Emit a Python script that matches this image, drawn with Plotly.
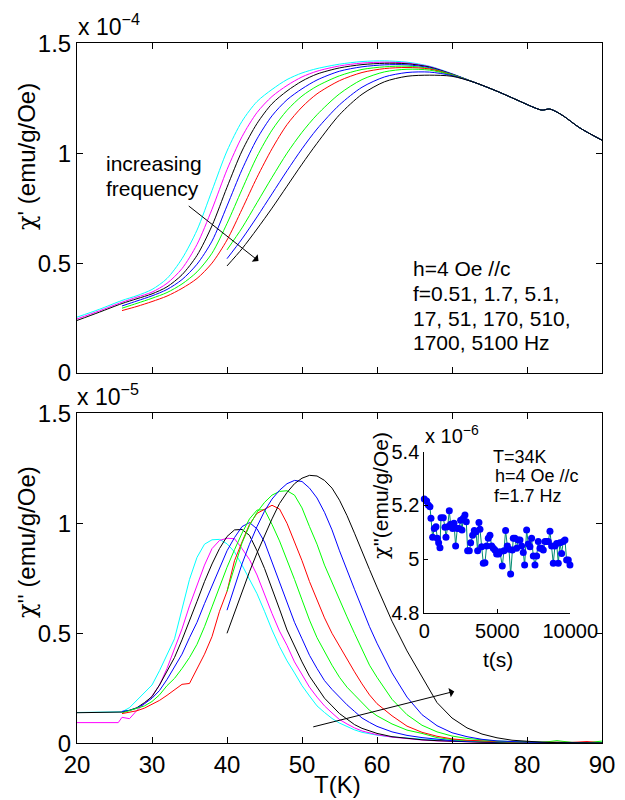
import plotly.graph_objects as go

# ---------------- data ----------------
# top panel: chi' (units of 1e-4 emu/g/Oe)
T_top = [20, 23, 26, 28, 30, 32, 34, 36, 38, 40, 42, 44, 46, 48, 50, 52, 55, 58,
         61, 64, 67, 70, 73, 76, 79, 81, 82, 83, 84, 85, 87, 90]
top_tail = [1.322, 1.282, 1.237, 1.207, 1.196, 1.201, 1.187, 1.166, 1.116, 1.059]
top_cyan = [0.254, 0.29, 0.33, 0.352, 0.38, 0.43, 0.52, 0.65, 0.83, 1.01, 1.145, 1.235,
            1.29, 1.335, 1.365, 1.385, 1.405, 1.417, 1.42, 1.414, 1.396, 1.362]
top_magenta = [0.246, 0.283, 0.322, 0.345, 0.368, 0.408, 0.475, 0.585, 0.745, 0.925, 1.075,
               1.185, 1.258, 1.308, 1.347, 1.373, 1.397, 1.41, 1.414, 1.41, 1.394, 1.361]
top_black1 = [0.239, 0.277, 0.316, 0.338, 0.36, 0.392, 0.447, 0.535, 0.67, 0.845, 1.01,
              1.135, 1.225, 1.283, 1.328, 1.36, 1.388, 1.403, 1.409, 1.407, 1.392, 1.36]
top_blue1 = [None, None, 0.305, 0.328, 0.351, 0.38, 0.425, 0.495, 0.6, 0.76, 0.925, 1.065,
             1.17, 1.243, 1.293, 1.333, 1.373, 1.393, 1.402, 1.402, 1.389, 1.359]
top_green1 = [None, None, 0.295, 0.317, 0.34, 0.366, 0.405, 0.46, 0.545, 0.68, 0.835, 0.985,
              1.105, 1.195, 1.26, 1.305, 1.352, 1.381, 1.393, 1.396, 1.386, 1.358]
top_red = [None, None, 0.284, 0.303, 0.325, 0.35, 0.385, 0.43, 0.5, 0.605, 0.745, 0.89,
           1.02, 1.13, 1.21, 1.27, 1.33, 1.367, 1.385, 1.39, 1.383, 1.356]
top_green2 = [None] * 9 + [0.56, 0.66, 0.775, 0.89, 1.0, 1.095, 1.175, 1.27, 1.335, 1.37,
                           1.382, 1.378, 1.355]
top_blue2 = [None] * 9 + [0.52, 0.61, 0.71, 0.815, 0.92, 1.02, 1.11, 1.22, 1.3, 1.347,
                          1.367, 1.369, 1.353]
top_black2 = [None] * 9 + [0.487, 0.565, 0.655, 0.75, 0.85, 0.95, 1.045, 1.175, 1.268,
                           1.325, 1.35, 1.355, 1.35]

# bottom panel: chi'' (units of 1e-5 emu/g/Oe)
T_bot = [20, 25.5, 26, 27, 28, 29, 30, 31, 32, 33, 34, 35, 36, 37, 38, 39, 40, 41, 42, 43,
         44, 45, 46, 47, 48, 49, 50, 51, 52, 53, 54, 55, 56, 57, 58, 59, 60, 62, 64, 66,
         68, 70, 72, 74, 76, 78, 80, 82, 84, 86, 88, 90]
bot_cyan = [0.140, 0.141, 0.143, 0.162, 0.196, 0.232, 0.265, 0.33, 0.40, 0.475, 0.61, 0.745,
            0.845, 0.905, 0.925, 0.927, 0.907, 0.87, 0.81, 0.745, 0.68, 0.6, 0.515, 0.44,
            0.375, 0.32, 0.262, 0.215, 0.17, 0.14, 0.113, 0.092, 0.075, 0.061, 0.05, 0.043,
            0.037, 0.029, 0.023, 0.019, 0.016, 0.013, 0.011, 0.01, 0.008, 0.006, 0.005,
            0.004, 0.003, 0.003, 0.002, 0.002]
bot_magenta = [0.094, 0.094, 0.118, 0.112, 0.15, 0.18, 0.215, 0.265, 0.34, 0.43, 0.52, 0.625,
               0.715, 0.81, 0.885, 0.922, 0.932, 0.93, 0.885, 0.835, 0.765, 0.675, 0.59,
               0.51, 0.445, 0.37, 0.315, 0.255, 0.21, 0.17, 0.138, 0.108, 0.088, 0.07,
               0.056, 0.047, 0.039, 0.028, 0.02, 0.015, 0.011, 0.008, 0.006, 0.005, 0.004,
               0.003, 0.003, 0.004, 0.005, 0.003, 0.002, 0.002]
bot_black1 = [0.139, 0.14, 0.142, 0.15, 0.162, 0.185, 0.212, 0.265, 0.325, 0.39, 0.47, 0.555,
              0.645, 0.735, 0.815, 0.885, 0.94, 0.97, 0.972, 0.945, 0.875, 0.795, 0.705,
              0.61, 0.515, 0.44, 0.37, 0.305, 0.255, 0.205, 0.17, 0.135, 0.11, 0.085, 0.068,
              0.055, 0.045, 0.03, 0.022, 0.016, 0.012, 0.009, 0.007, 0.005, 0.004, 0.003,
              0.002, 0.002, 0.002, 0.001, 0.001, 0.001]
bot_blue1 = [None, None, 0.145, 0.15, 0.16, 0.18, 0.205, 0.24, 0.29, 0.345, 0.405, 0.48,
             0.55, 0.635, 0.715, 0.795, 0.875, 0.935, 0.985, 1.003, 0.975, 0.915, 0.825,
             0.735, 0.64, 0.55, 0.475, 0.4, 0.34, 0.285, 0.245, 0.21, 0.175, 0.145, 0.115,
             0.095, 0.077, 0.052, 0.036, 0.026, 0.018, 0.012, 0.009, 0.007, 0.005, 0.004,
             0.003, 0.002, 0.002, 0.002, 0.001, 0.001]
bot_green1 = [None, None, 0.138, 0.148, 0.158, 0.17, 0.19, 0.22, 0.262, 0.295, 0.34, 0.39,
              0.45, 0.53, 0.62, 0.71, 0.8, 0.88, 0.955, 1.02, 1.06, 1.062, 0.995, 0.92,
              0.835, 0.745, 0.652, 0.56, 0.48, 0.415, 0.355, 0.3, 0.255, 0.22, 0.185, 0.15,
              0.125, 0.088, 0.06, 0.045, 0.026, 0.017, 0.012, 0.009, 0.007, 0.005, 0.004,
              0.004, 0.012, 0.004, 0.003, 0.01]
bot_red = [None, None, 0.135, 0.14, 0.148, 0.16, 0.178, 0.195, 0.218, 0.245, 0.268, 0.272,
           0.335, 0.405, 0.485, 0.6, 0.69, 0.83, 0.915, 0.995, 1.045, 1.065, 1.082, 1.065,
           1.0, 0.915, 0.83, 0.735, 0.65, 0.57, 0.5, 0.44, 0.38, 0.325, 0.27, 0.22, 0.18,
           0.125, 0.078, 0.05, 0.032, 0.02, 0.014, 0.01, 0.008, 0.006, 0.005, 0.004, 0.004,
           0.004, 0.008, 0.002]
bot_green2 = [None] * 16 + [0.69, 0.8, 0.91, 0.99, 1.05, 1.095, 1.128, 1.145, 1.148, 1.128,
                            1.07, 0.985, 0.905, 0.81, 0.73, 0.655, 0.575, 0.5, 0.425, 0.355,
                            0.3, 0.2, 0.13, 0.082, 0.052, 0.033, 0.022, 0.015, 0.01, 0.008,
                            0.006, 0.005, 0.004, 0.004, 0.003, 0.002]
bot_blue2 = [None] * 16 + [0.605, 0.71, 0.815, 0.905, 0.985, 1.055, 1.11, 1.15, 1.18, 1.195,
                           1.19, 1.16, 1.115, 1.05, 0.97, 0.875, 0.785, 0.7, 0.615, 0.53,
                           0.455, 0.32, 0.21, 0.13, 0.08, 0.048, 0.03, 0.018, 0.011, 0.007,
                           0.005, 0.004, 0.003, 0.002, 0.002, 0.001]
bot_black2 = [None] * 16 + [0.5, 0.595, 0.69, 0.78, 0.865, 0.945, 1.02, 1.09, 1.14, 1.18,
                            1.205, 1.218, 1.215, 1.195, 1.16, 1.105, 1.035, 0.955, 0.87, 0.79,
                            0.71, 0.555, 0.42, 0.3, 0.185, 0.115, 0.07, 0.042, 0.025, 0.014,
                            0.009, 0.005, 0.003, 0.002, 0.002, 0.001]

# inset: chi'' vs time at T=34 K (units of 1e-6)
inset_t = [0, 160, 274, 388, 457, 571, 685, 799, 890, 982,
           1073, 1142, 1301, 1415, 1484, 1598, 1712, 1804, 1941, 2032,
           2146, 2260, 2374, 2488, 2580, 2671, 2785, 2877, 2968, 3082,
           3173, 3310, 3425, 3539, 3653, 3744, 3813, 3927, 4041, 4155,
           4269, 4383, 4497, 4612, 4726, 4840, 4954, 5091, 5182, 5342,
           5456, 5570, 5684, 5799, 5913, 6027, 6096, 6210, 6324, 6438,
           6552, 6666, 6780, 6872, 7009, 7123, 7237, 7351, 7466, 7580,
           7694, 7808, 7922, 8036, 8150, 8265, 8379, 8493, 8607, 8721,
           8835, 8949, 9064, 9178, 9292, 9406, 9520, 9634, 9748, 9862, 9977]
inset_v = [5.224, 5.216, 5.201, 5.195, 5.152, 5.081, 5.114, 5.12, 5.077, 5.061,
           5.042, 5.154, 5.154, 5.118, 5.081, 5.12, 5.18, 5.13, 5.114, 5.133,
           5.049, 5.114, 5.114, 5.145, 5.108, 5.152, 5.164, 5.139, 5.031, 5.031,
           5.061, 5.089, 5.106, 5.102, 5.031, 5.136, 5.111, 5.046, 4.984, 4.986,
           5.049, 5.077, 5.089, 5.049, 5.04, 5.034, 5.019, 5.019, 5.027, 4.974,
           5.031, 5.106, 5.049, 5.036, 4.944, 5.034, 5.077, 5.077, 5.04, 5.071,
           5.071, 5.049, 5.024, 4.978, 5.108, 5.056, 5.046, 5.077, 5.011, 4.978,
           5.011, 5.065, 5.04, 5.04, 5.034, 5.065, 5.065, 5.065, 5.104, 5.049,
           4.984, 5.049, 5.058, 4.984, 5.061, 5.021, 5.065, 5.071, 4.996, 4.996, 4.978]

colors = ["#00FFFF", "#FF00FF", "#000000", "#0000FF", "#00FF00", "#FF0000",
          "#00FF00", "#0000FF", "#000000"]
top_series = [top_cyan, top_magenta, top_black1, top_blue1, top_green1, top_red,
              top_green2, top_blue2, top_black2]
bot_series = [bot_cyan, bot_magenta, bot_black1, bot_blue1, bot_green1, bot_red,
              bot_green2, bot_blue2, bot_black2]

W, H = 625, 800
FONT = "Liberation Sans, Arial, sans-serif"
CHI = '<span style="font-family:DejaVu Serif">χ</span>'


def px(x):
    return x / W


def py(y):
    return 1 - y / H


fig = go.Figure()
for vals, col in zip(top_series, colors):
    fig.add_trace(go.Scatter(x=T_top, y=vals + top_tail, mode="lines",
                             line=dict(color=col, width=1, shape="spline", smoothing=0.8),
                             xaxis="x", yaxis="y", showlegend=False, hoverinfo="skip"))
for vals, col in zip(bot_series, colors):
    fig.add_trace(go.Scatter(x=T_bot, y=vals, mode="lines",
                             line=dict(color=col, width=1),
                             xaxis="x2", yaxis="y2", showlegend=False, hoverinfo="skip"))
fig.add_trace(go.Scatter(x=inset_t, y=inset_v, mode="lines+markers",
                         line=dict(color="#008a70", width=1),
                         marker=dict(color="#0000FF", size=7),
                         xaxis="x3", yaxis="y3", showlegend=False, cliponaxis=False,
                         hoverinfo="skip"))

axis_common = dict(showline=True, linecolor="black", linewidth=1, mirror="ticks",
                   ticks="inside", ticklen=6, tickcolor="black", showgrid=False,
                   zeroline=False, automargin=False,
                   tickfont=dict(family=FONT, size=24, color="black"))
inset_common = dict(showline=True, linecolor="black", linewidth=1, ticks="inside",
                    ticklen=4, tickcolor="black", showgrid=False, zeroline=False,
                    automargin=False, tickfont=dict(family=FONT, size=20, color="black"))
xdom = [px(77), px(602)]
fig.update_layout(
    width=W, height=H, margin=dict(l=0, r=0, t=0, b=0, autoexpand=False),
    paper_bgcolor="white", plot_bgcolor="white",
    font=dict(family=FONT, color="black"),
    xaxis=dict(domain=xdom, range=[20, 90], anchor="y",
               tickvals=[30, 40, 50, 60, 70, 80], showticklabels=False, **axis_common),
    yaxis=dict(domain=[py(373), py(43.3)], range=[0, 1.5], anchor="x",
               tickvals=[0, 0.5, 1, 1.5], ticktext=["0", "0.5", "1", "1.5"],
               **axis_common),
    xaxis2=dict(domain=xdom, range=[20, 90], anchor="y2",
                tickvals=[20, 30, 40, 50, 60, 70, 80, 90],
                ticktext=["20", "30", "40", "50", "60", "70", "80", "90"], **axis_common),
    yaxis2=dict(domain=[py(743.3), py(413.3)], range=[0, 1.5], anchor="x2",
                tickvals=[0, 0.5, 1, 1.5], ticktext=["0", "0.5", "1", "1.5"],
                **axis_common),
    xaxis3=dict(domain=[px(424.3), px(570.3)], range=[0, 10000], anchor="y3",
                tickvals=[0, 5000, 10000], ticktext=["0", "5000", "10000"],
                **inset_common),
    yaxis3=dict(domain=[py(612.7), py(451.7)], range=[4.8, 5.4], anchor="x3",
                tickvals=[4.8, 5.0, 5.2, 5.4], ticktext=["4.8", "5", "5.2", "5.4"],
                **inset_common),
)


def txt(text, x, y, size, xanchor="left", yanchor="middle", angle=0):
    return dict(text=text, x=px(x), y=py(y), xref="paper", yref="paper",
                xanchor=xanchor, yanchor=yanchor, showarrow=False, textangle=angle,
                font=dict(family=FONT, size=size, color="black"))


ann = [
    txt("x 10<sup>−4</sup>", 76, 42, 23, yanchor="bottom"),
    txt("x 10<sup>−5</sup>", 75, 412, 23, yanchor="bottom"),
    txt("x 10<sup>−6</sup>", 423, 449, 20, yanchor="bottom"),
    txt(CHI + "' (emu/g/Oe)", 27, 157, 24, xanchor="center", angle=-90),
    txt(CHI + "'' (emu/g/Oe)", 27, 542, 24, xanchor="center", angle=-90),
    txt("T(K)", 337, 784, 24, xanchor="center"),
    txt("increasing", 104, 164, 21),
    txt("frequency", 104, 188, 21),
    txt("h=4 Oe //c", 411, 269, 21),
    txt("f=0.51, 1.7, 5.1,", 411, 293.5, 21),
    txt("17, 51, 170, 510,", 411, 318, 21),
    txt("1700, 5100 Hz", 411, 342.5, 21),
    txt("T=34K", 491, 457, 18),
    txt("h=4 Oe //c", 493, 476, 18),
    txt("f=1.7 Hz", 492, 495.5, 18),
    txt("t(s)", 498, 659, 21, xanchor="center"),
    txt(CHI + "''(emu/g/Oe)", 381, 496, 21, xanchor="center", angle=-90),
    dict(text="", x=44.2, y=0.51, ax=34.7, ay=0.765, xref="x", yref="y",
         axref="x", ayref="y", showarrow=True, arrowhead=1, arrowsize=1.6,
         arrowwidth=1, arrowcolor="black", standoff=0),
    dict(text="", x=70.3, y=0.236, ax=51.3, ay=0.073, xref="x2", yref="y2",
         axref="x2", ayref="y2", showarrow=True, arrowhead=1, arrowsize=1.6,
         arrowwidth=1, arrowcolor="black", standoff=0),
]
fig.update_layout(annotations=ann)

# remove the browser's default 8px page margin so the figure sits at (0, 0)
fig.write_html("out.html",
               config={"displayModeBar": False, "staticPlot": True},
               post_script="document.body.style.margin='0';"
                           "document.body.style.overflow='hidden';")
